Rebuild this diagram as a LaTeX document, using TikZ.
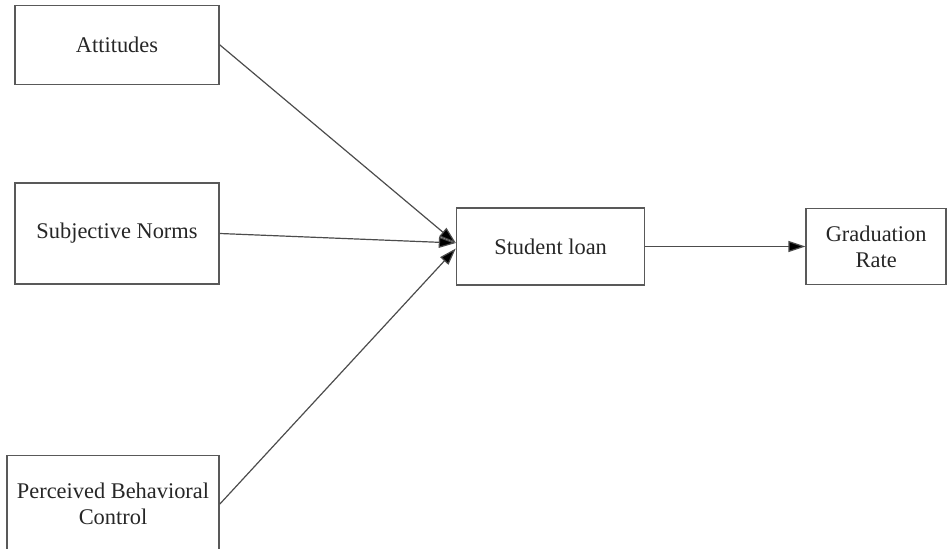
\documentclass[tikz,border=0pt]{standalone}
\usepackage{fontspec}
\setmainfont{Liberation Serif}
\usetikzlibrary{arrows.meta,positioning}

\begin{document}
\begin{tikzpicture}[
    node distance=1.0cm,
    font=\fontsize{11.2}{13}\selectfont,
    box/.style={rectangle, draw=black!65, line width=0.8pt, text=black!85, align=center, inner sep=2pt},
    arrow/.style={-{Triangle[length=8.5pt, width=5.5pt, fill=black]}, draw=black!70, line width=0.6pt}
]
\useasboundingbox (0,0) rectangle (474pt,-274.5pt);
\node[box, minimum width=102pt, minimum height=50.5pt] (subj) at (58.5pt,-116.75pt) {Subjective Norms};
\node[box, minimum width=102pt, minimum height=39.5pt, above=48.5pt of subj] (att) {Attitudes};
\node[box, minimum width=106pt, minimum height=48.5pt, below left=85pt and 0pt of subj.south east] (pbc) {Perceived Behavioral\\Control};
\node[box, minimum width=94pt, minimum height=38.5pt, right=118pt of subj, yshift=-6.5pt] (loan) {Student loan};
\node[box, minimum width=70pt, minimum height=38pt, right=80pt of loan] (grad) {Graduation\\Rate};
\draw[arrow] (att.east) -- ([yshift=1.75pt]loan.west);
\draw[arrow] (subj.east) -- ([yshift=1.75pt]loan.west);
\draw[arrow] (pbc.east) -- ([yshift=-1pt]loan.west);
\draw[arrow] (loan) -- (grad);
\end{tikzpicture}
\end{document}
